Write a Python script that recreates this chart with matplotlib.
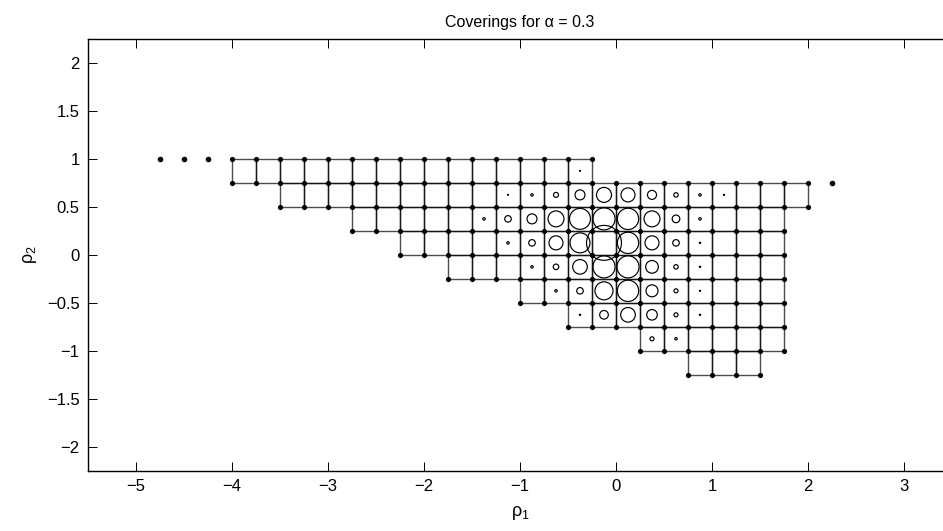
import numpy as np
import matplotlib
matplotlib.use("Agg")
import matplotlib.pyplot as plt
from matplotlib.patches import Rectangle, Circle

plt.rcParams['font.family'] = ['Liberation Sans', 'DejaVu Sans']
plt.rcParams['mathtext.fontset'] = 'custom'
plt.rcParams['mathtext.rm'] = 'Liberation Sans'
plt.rcParams['mathtext.it'] = 'Liberation Sans'

# grid step of the covering
step = 0.25

# rows of covering cells: bottom edge, leftmost and rightmost x
band_bottom = [0.75, 0.5, 0.25, 0.0, -0.25, -0.5, -0.75, -1.0, -1.25]
band_left = [-4.0, -3.5, -2.75, -2.25, -1.75, -1.0, -0.5, 0.25, 0.75]
band_right = [-0.25, 2.0, 1.75, 1.75, 1.75, 1.75, 1.75, 1.75, 1.5]

# isolated points outside the covered region
lone_x = [-4.75, -4.5, -4.25, 2.25]
lone_y = [1.0, 1.0, 1.0, 0.75]

# circles at cell centres (radius in data units)
circ_x = [-0.375,
          -1.125, -0.875, -0.625, -0.375, -0.125, 0.125, 0.375, 0.625, 0.875, 1.125,
          -1.375, -1.125, -0.875, -0.625, -0.375, -0.125, 0.125, 0.375, 0.625, 0.875,
          -1.125, -0.875, -0.625, -0.375, -0.125, 0.125, 0.375, 0.625, 0.875,
          -0.875, -0.625, -0.375, -0.125, 0.125, 0.375, 0.625, 0.875,
          -0.625, -0.375, -0.125, 0.125, 0.375, 0.625, 0.875,
          -0.375, -0.125, 0.125, 0.375, 0.625, 0.875,
          0.375, 0.625]
circ_y = [0.875,
          0.625, 0.625, 0.625, 0.625, 0.625, 0.625, 0.625, 0.625, 0.625, 0.625,
          0.375, 0.375, 0.375, 0.375, 0.375, 0.375, 0.375, 0.375, 0.375, 0.375,
          0.125, 0.125, 0.125, 0.125, 0.125, 0.125, 0.125, 0.125, 0.125,
          -0.125, -0.125, -0.125, -0.125, -0.125, -0.125, -0.125, -0.125,
          -0.375, -0.375, -0.375, -0.375, -0.375, -0.375, -0.375,
          -0.625, -0.625, -0.625, -0.625, -0.625, -0.625,
          -0.875, -0.875]
circ_r = [0.005,
          0.005, 0.0125, 0.026, 0.052, 0.078, 0.073, 0.047, 0.023, 0.0125, 0.006,
          0.013, 0.034, 0.052, 0.083, 0.109, 0.115, 0.111, 0.083, 0.040, 0.013,
          0.0125, 0.034, 0.073, 0.104, 0.182, 0.111, 0.073, 0.034, 0.007,
          0.0125, 0.029, 0.076, 0.115, 0.115, 0.066, 0.023, 0.007,
          0.0125, 0.034, 0.094, 0.111, 0.0625, 0.021, 0.006,
          0.007, 0.045, 0.076, 0.055, 0.021, 0.007,
          0.021, 0.0125]

x_ticks = [-5, -4, -3, -2, -1, 0, 1, 2, 3]
y_ticks = [-2, -1.5, -1, -0.5, 0, 0.5, 1, 1.5, 2]
y_ticklabels = ['\u22122', '\u22121.5', '\u22121', '\u22120.5', '0', '0.5', '1', '1.5', '2']
x_ticklabels = ['\u22125', '\u22124', '\u22123', '\u22122', '\u22121', '0', '1', '2', '3']

W, H = 943, 531
fig = plt.figure(figsize=(W / 100, H / 100), dpi=100)
ax = fig.add_axes([88 / W, (H - 470.7) / H, 864 / W, (470.7 - 39) / H])
ax.set_xlim(-5.5, 3.5)
ax.set_ylim(-2.25, 2.25)

# cell outlines; shared edges get drawn twice and look darker
verts = set()
for yb, xl, xr in zip(band_bottom, band_left, band_right):
    n = int(round((xr - xl) / step))
    for k in range(n):
        x0 = xl + k * step
        ax.add_patch(Rectangle((x0, yb), step, step, fill=False,
                               edgecolor=(0, 0, 0, 0.7), linewidth=1.0))
        for dx in (0, step):
            for dy in (0, step):
                verts.add((round(x0 + dx, 4), round(yb + dy, 4)))

vx = [v[0] for v in verts]
vy = [v[1] for v in verts]
ax.plot(vx, vy, linestyle='none', marker='o', markersize=2.7, color='k')
ax.plot(lone_x, lone_y, linestyle='none', marker='o', markersize=3.0, color='k')

for cx, cy, r in zip(circ_x, circ_y, circ_r):
    ax.add_patch(Circle((cx, cy), r, fill=False, edgecolor='k', linewidth=0.85))

ax.set_xticks(x_ticks)
ax.set_xticklabels(x_ticklabels)
ax.set_yticks(y_ticks)
ax.set_yticklabels(y_ticklabels)
ax.tick_params(direction='in', top=True, right=True, length=6.2, width=0.7,
               labelsize=12, pad=6)
for s in ax.spines.values():
    s.set_linewidth(1.0)

ax.set_title('Coverings for \u03b1 = 0.3', fontsize=11.5, pad=9)
ax.set_xlabel('$\\mathrm{\u03c1}_1$', fontsize=13, labelpad=7)
ax.set_ylabel('$\\mathrm{\u03c1}_2$', fontsize=13, labelpad=6)

fig.savefig('out.png', dpi=100)
